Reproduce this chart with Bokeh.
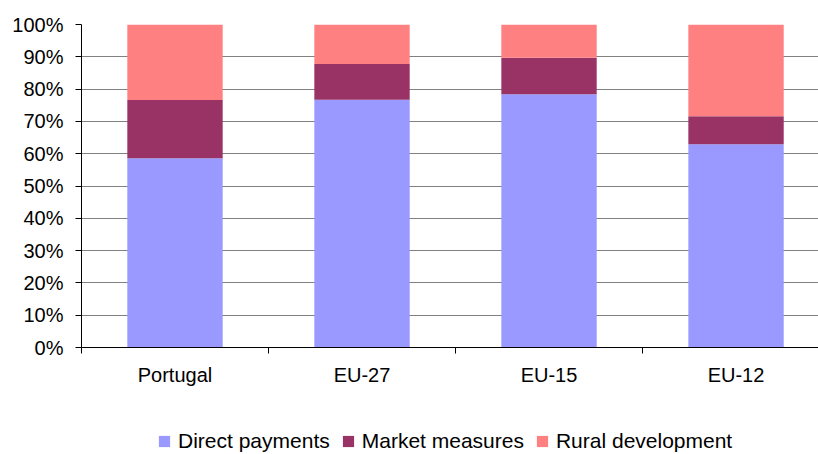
from bokeh.plotting import figure
from bokeh.models import FixedTicker, Legend, LegendItem, ColumnDataSource
from bokeh.layouts import column
from bokeh.embed import file_html
from bokeh.resources import INLINE

categories = ["Portugal", "EU-27", "EU-15", "EU-12"]
direct_payments = [58.6, 76.7, 78.4, 62.9]
market_measures = [18.0, 11.1, 11.3, 8.7]
rural_development = [23.4, 12.2, 10.3, 28.4]
series_names = ["Direct payments", "Market measures", "Rural development"]
colors = ["#9999FF", "#993366", "#FF8080"]
y_ticks = [0, 10, 20, 30, 40, 50, 60, 70, 80, 90, 100]

xs = [i + 0.5 for i in range(len(categories))]

FONT = "Liberation Sans"
FS = "20px"

p = figure(width=818, height=400, output_backend="svg", toolbar_location=None,
           x_range=(0, 3.941), y_range=(0, 100),
           min_border_left=81, min_border_right=0, min_border_top=24, min_border_bottom=53)
p.outline_line_color = None
p.background_fill_color = "white"
p.border_fill_color = "white"

bottoms = [0.0] * len(categories)
renderers = []
for name, vals, col in zip(series_names, [direct_payments, market_measures, rural_development], colors):
    tops = [b + v for b, v in zip(bottoms, vals)]
    src = ColumnDataSource(dict(x=xs, bottom=bottoms, top=tops))
    r = p.vbar(x="x", bottom="bottom", top="top", width=0.51, source=src,
               fill_color=col, line_color=None)
    renderers.append(r)
    bottoms = tops

# x axis
p.xaxis.ticker = FixedTicker(ticks=xs, minor_ticks=list(range(len(categories) + 1)))
p.xaxis.major_label_overrides = {x: c for x, c in zip(xs, categories)}
p.xaxis.major_tick_line_color = None
p.xaxis.major_tick_out = 0
p.xaxis.major_tick_in = 0
p.xaxis.minor_tick_out = 6
p.xaxis.minor_tick_in = 0
p.xaxis.minor_tick_line_color = "black"
p.xaxis.axis_line_color = "black"
p.xaxis.major_label_standoff = 10
p.xaxis.major_label_text_font = FONT
p.xaxis.major_label_text_font_size = FS
p.xaxis.major_label_text_color = "black"

# y axis
p.yaxis.ticker = FixedTicker(ticks=y_ticks, minor_ticks=[])
p.yaxis.major_label_overrides = {t: f"{t}%" for t in y_ticks}
p.yaxis.major_tick_out = 6
p.yaxis.major_tick_in = 0
p.yaxis.major_tick_line_color = "black"
p.yaxis.axis_line_color = "black"
p.yaxis.major_label_standoff = 12
p.yaxis.major_label_text_font = FONT
p.yaxis.major_label_text_font_size = FS
p.yaxis.major_label_text_color = "black"

p.xgrid.grid_line_color = None
p.ygrid.grid_line_color = "#808080"
p.ygrid.grid_line_width = 1
p.ygrid.level = "underlay"

# legend strip below the chart
lg = figure(width=818, height=54, output_backend="svg", toolbar_location=None,
            x_range=(0, 1), y_range=(0, 1),
            min_border_left=81, min_border_right=0, min_border_top=0, min_border_bottom=0)
lg.outline_line_color = None
lg.axis.visible = False
lg.grid.visible = False
lg.background_fill_color = "white"
lg.border_fill_color = "white"
legend_renderers = []
for col in colors:
    src = ColumnDataSource(dict(x=[float("nan")], top=[float("nan")]))
    legend_renderers.append(lg.vbar(x="x", top="top", width=0.5, source=src,
                                    fill_color=col, line_color=None))

legend = Legend(items=[LegendItem(label=n, renderers=[r], index=0)
                       for n, r in zip(series_names, legend_renderers)],
                orientation="horizontal", location=(76, 1),
                padding=0, margin=0, spacing=11, label_standoff=7,
                glyph_width=14, glyph_height=14,
                border_line_color=None, background_fill_alpha=0,
                label_text_font=FONT, label_text_font_size="21px", label_text_color="black")
lg.add_layout(legend, "center")

layout = column(p, lg, spacing=0)
open("out.html", "w").write(file_html(layout, INLINE))
